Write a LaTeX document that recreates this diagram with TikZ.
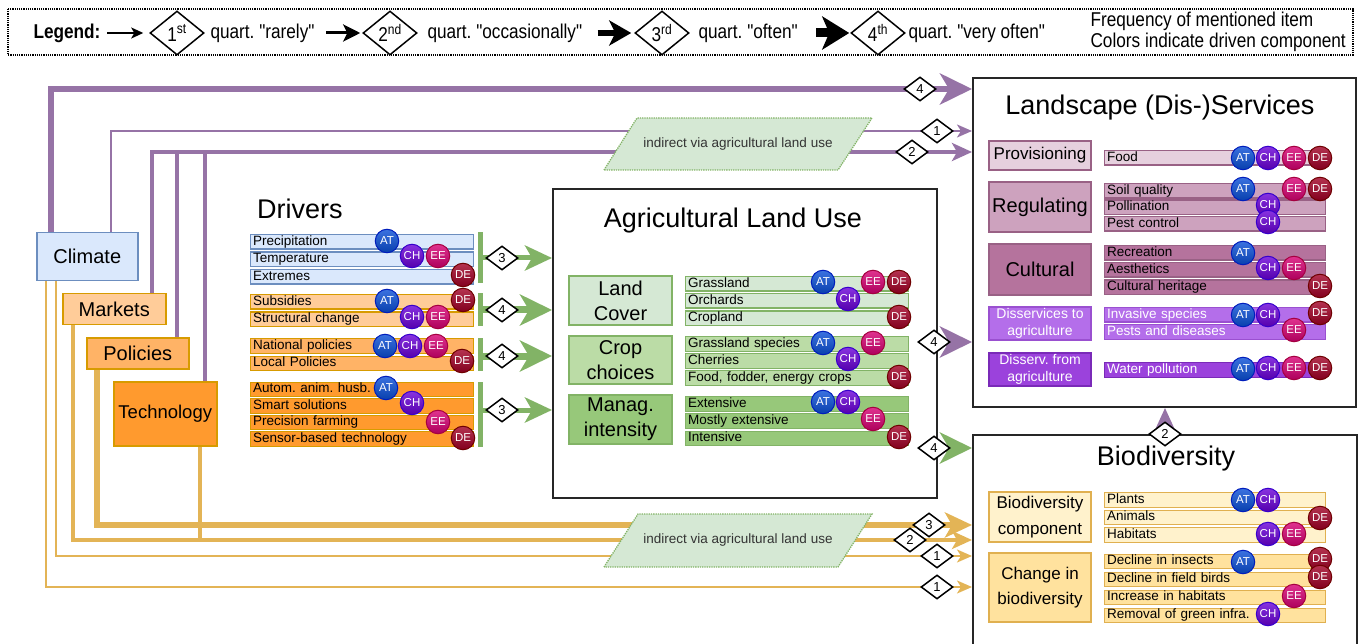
\documentclass[tikz,border=0pt]{standalone}
\usepackage{fontspec}
\setmainfont{Liberation Sans}
\newfontfamily\narrowf[FakeStretch=0.86]{Liberation Sans}
\usetikzlibrary{arrows.meta,shapes.geometric,backgrounds}
\frenchspacing
\definecolor{cBlue}{HTML}{DAE8FC}
\definecolor{cBlueD}{HTML}{6C8EBF}
\definecolor{cMkt}{HTML}{FFCC99}
\definecolor{cPol}{HTML}{FFB366}
\definecolor{cTec}{HTML}{FF9A2E}
\definecolor{cOrD}{HTML}{D79B00}
\definecolor{cG1}{HTML}{D5E8D4}
\definecolor{cG2}{HTML}{BBDCA6}
\definecolor{cG3}{HTML}{97C87A}
\definecolor{cGD}{HTML}{82B366}
\definecolor{cP1}{HTML}{E6D0DE}
\definecolor{cP2}{HTML}{CDA2BE}
\definecolor{cP3}{HTML}{B5739D}
\definecolor{cP4}{HTML}{B46EEA}
\definecolor{cP4D}{HTML}{9A50D0}
\definecolor{cP5}{HTML}{9B42DC}
\definecolor{cP5D}{HTML}{7A2AB8}
\definecolor{cPD}{HTML}{996185}
\definecolor{cY1}{HTML}{FFF2CC}
\definecolor{cY2}{HTML}{FFE29E}
\definecolor{cYD}{HTML}{E0B050}
\definecolor{cPur}{HTML}{9673A6}
\definecolor{cGold}{HTML}{E3B456}
\definecolor{cAT}{HTML}{0A4FD8}
\definecolor{cATd}{HTML}{001DBC}
\definecolor{cCH}{HTML}{6A00D8}
\definecolor{cCHd}{HTML}{3700CC}
\definecolor{cEE}{HTML}{D80073}
\definecolor{cEEd}{HTML}{A50040}
\definecolor{cDE}{HTML}{A20025}
\definecolor{cDEd}{HTML}{6F0000}
\newcommand\fsz[2]{\fontsize{#1}{#2}\selectfont}
\tikzset{
  ibar/.style={rectangle, draw=#1, line width=1.2pt, inner xsep=2.5pt, inner ysep=0pt,
     minimum height=14.5pt, text height=9.8pt, text depth=2.7pt, align=left,
     anchor=north west, font=\fsz{13.5}{14}},
  clbar/.style={ibar=cBlueD, fill=cBlue, text width=218pt},
  mkbar/.style={ibar=cOrD, fill=cMkt, text width=218pt},
  pobar/.style={ibar=cOrD, fill=cPol, text width=218pt},
  tebar/.style={ibar=cOrD, fill=cTec, text width=218pt},
  gabar/.style={ibar=cGD, fill=cG1, text width=218pt},
  gbbar/.style={ibar=cGD, fill=cG2, text width=218pt},
  gcbar/.style={ibar=cGD, fill=cG3, text width=218pt},
  pabar/.style={ibar=cPD, fill=cP1, text width=216pt},
  pbbar/.style={ibar=cPD, fill=cP2, text width=216pt},
  pcbar/.style={ibar=cPD, fill=cP3, text width=216pt},
  pdbar/.style={ibar=cP4D, fill=cP4, text width=216pt, text=white},
  pebar/.style={ibar=cP5D, fill=cP5, text width=216pt, text=white},
  yabar/.style={ibar=cYD, fill=cY1, text width=216pt},
  ybbar/.style={ibar=cYD, fill=cY2, text width=216pt},
  drv/.style={rectangle, line width=1.5pt, inner sep=0pt, anchor=north west, font=\fsz{20}{24}},
  cat/.style={rectangle, line width=1.5pt, inner sep=0pt, align=center, minimum width=102pt},
  bigbox/.style={rectangle, draw=black!85, line width=2pt, fill=white, inner sep=0pt, anchor=north west},
  ttl/.style={font=\fsz{27}{30}, anchor=base, inner sep=0pt},
  badge/.style={circle, minimum size=23.5pt, inner sep=0pt, line width=1pt, text=white, font=\fsz{11.5}{12}},
  bAT/.style={badge, top color=cAT!80!white, bottom color=cAT!80!black, draw=cATd},
  bCH/.style={badge, top color=cCH!80!white, bottom color=cCH!80!black, draw=cCHd},
  bEE/.style={badge, top color=cEE!80!white, bottom color=cEE!80!black, draw=cEEd},
  bDE/.style={badge, top color=cDE!80!white, bottom color=cDE!80!black, draw=cDEd},
  dia/.style={diamond, draw=black, fill=white, line width=1.5pt, inner sep=0pt,
     minimum width=32pt, minimum height=24pt, font=\fsz{13}{13}},
  ldia/.style={diamond, draw=black, fill=white, line width=1.5pt, inner sep=0pt,
     minimum width=54pt, minimum height=44pt, font=\narrowf\fsz{20}{20}},
  ltxt/.style={anchor=west, font=\narrowf\fsz{20}{21}},
  brk/.style={rectangle, fill=cGD, draw=none, minimum width=5pt, inner sep=0pt},
  pur/.style={draw=cPur},
  gold/.style={draw=cGold},
  grn/.style={draw=cGD},
  tipa/.style={-{Stealth[length=15pt,width=13pt,inset=4pt]}},
  tipb/.style={-{Stealth[length=20pt,width=18pt,inset=5pt]}},
  tipc/.style={-{Stealth[length=27pt,width=25pt,inset=7pt]}},
  tipd/.style={-{Stealth[length=32pt,width=31pt,inset=9pt]}},
  indir/.style={fill=cG1, draw=cGD, densely dotted, line width=1.3pt},
}
\begin{document}
\begin{tikzpicture}[x=1pt,y=-1pt]
\useasboundingbox (0,0) rectangle (1360,644);

% ---------- legend ----------
\draw[densely dotted, line width=1.2pt] (8,9) rectangle (1353,55);
\node[ltxt, font=\narrowf\bfseries\fsz{20}{21}] (legT) at (30,33) {Legend:};
\node[ldia] (ld1) at (177,33) {1\textsuperscript{st}};
\node[ltxt] (lq1) at (207,33) {quart. "rarely"};
\node[ldia] (ld2) at (390,33) {2\textsuperscript{nd}};
\node[ltxt] (lq2) at (424,33) {quart. "occasionally"};
\node[ldia] (ld3) at (662,33) {3\textsuperscript{rd}};
\node[ltxt] (lq3) at (695,33) {quart. "often"};
\node[ldia] (ld4) at (878,33) {4\textsuperscript{th}};
\node[ltxt] (lq4) at (905,33) {quart. "very often"};
\node[ltxt, align=left] (lfreq) at (1087,32) {Frequency of mentioned item\\Colors indicate driven component};
\draw[line width=1.5pt, -{Stealth[length=12pt,width=11pt,inset=3pt]}] (107,33) -- ([xshift=-6pt]ld1.west);
\draw[line width=3pt, -{Stealth[length=17pt,width=17pt,inset=4pt]}] ([xshift=8pt]lq1.east) -- ([xshift=-2pt]ld2.west);
\draw[line width=6pt, -{Stealth[length=22pt,width=25pt,inset=6pt]}] ([xshift=12pt]lq2.east) -- ([xshift=-3pt]ld3.west);
\draw[line width=9pt, -{Stealth[length=27pt,width=33pt,inset=7pt]}] ([xshift=15pt]lq3.east) -- ([xshift=-1pt]ld4.west);

% ---------- driver boxes ----------
\node[drv, fill=cBlue, draw=cBlueD, minimum width=101pt, minimum height=48pt] (clim) at (36,232) {Climate};
\node[drv, fill=cMkt, draw=cOrD, minimum width=103pt, minimum height=31pt] (mkt) at (62,293) {Markets};
\node[drv, fill=cPol, draw=cOrD, minimum width=102pt, minimum height=31pt] (pol) at (86,337) {Policies};
\node[drv, fill=cTec, draw=cOrD, minimum width=103pt, minimum height=64pt, font=\fsz{18.5}{22}] (tech) at (113,381) {Technology};

% ---------- big boxes ----------
\node[bigbox, minimum width=384pt, minimum height=309pt] (alu) at (552,188) {};
\node[bigbox, minimum width=383pt, minimum height=329pt] (ls) at (972,77) {};
\node[bigbox, minimum width=384pt, minimum height=240pt] (bd) at (972,434) {};

\coordinate (yA) at (0,89);
\coordinate (yB) at (0,131);
\coordinate (yC) at (0,152);
\coordinate (yD) at (0,525);
\coordinate (yE) at (0,540);
\coordinate (yF) at (0,556);
\coordinate (yG) at (0,587);
\coordinate (yH) at (0,342);
\coordinate (yI) at (0,448);

% ---------- connectors (background) ----------
\begin{pgfonlayer}{background}
\draw[pur, line width=6pt, tipd] ([xshift=15pt]clim.north west) |- (ls.west |- yA);
\draw[pur, line width=2pt, tipa] ([xshift=75pt]clim.north west) |- (ls.west |- yB);
\draw[pur, line width=4pt, tipb] ([xshift=90pt]mkt.north west) |- (ls.west |- yC);
\draw[pur, line width=3.5pt] ([xshift=91pt]pol.north west) -- ([xshift=91pt]pol.north west |- yC);
\draw[pur, line width=3.5pt] ([xshift=92pt]tech.north west) -- ([xshift=92pt]tech.north west |- yC);
\draw[gold, line width=2pt, tipa] ([xshift=10pt]clim.south west) |- (bd.west |- yG);
\draw[gold, line width=2pt, tipa] ([xshift=20pt]clim.south west) |- (bd.west |- yF);
\draw[gold, line width=3.5pt, tipb] ([xshift=11pt]mkt.south west) |- (bd.west |- yE);
\draw[gold, line width=5.5pt, tipc] ([xshift=11pt]pol.south west) |- (bd.west |- yD);
\draw[gold, line width=3.5pt] ([xshift=87pt]tech.south west) -- ([xshift=87pt]tech.south west |- yE);
\draw[pur, line width=7pt, tipd] (alu.east |- yH) -- (ls.west |- yH);
\draw[grn, line width=7pt, tipd] (alu.east |- yI) -- (bd.west |- yI);
\draw[pur, line width=4pt, tipb] (bd.north) -- (bd.north |- ls.south);
\end{pgfonlayer}

% ---------- indirect parallelograms ----------
\draw[indir] (604,170) -- (637,118) -- (872,118) -- (838,170) -- cycle;
\node[font=\fsz{13.5}{14}, text=black!80] (ind1) at (738,144) {indirect via agricultural land use};
\draw[indir] (604,567) -- (638,514) -- (872,514) -- (838,567) -- cycle;
\node[font=\fsz{13.5}{14}, text=black!80] (ind2) at (738,540) {indirect via agricultural land use};

% ---------- titles ----------
\node[ttl, anchor=base west] (drvT) at (257,219) {Drivers};
\node[ttl] (aluT) at (733,228) {Agricultural Land Use};
\node[ttl] (lsT) at (1160,115) {Landscape (Dis-)Services};
\node[ttl] (bdT) at (1166,465) {Biodiversity};

% ---------- driver items ----------
\node[clbar] (i1) at (250,234) {Precipitation};
\node[clbar] (i2) at (250,251.5) {Temperature};
\node[clbar] (i3) at (250,269) {Extremes};
\node[mkbar] (i4) at (250,294) {Subsidies};
\node[mkbar] (i5) at (250,311.5) {Structural change};
\node[pobar] (i6) at (250,338) {National policies};
\node[pobar] (i7) at (250,355.5) {Local Policies};
\node[tebar] (i8) at (250,381.5) {Autom. anim. husb.};
\node[tebar] (i9) at (250,398) {Smart solutions};
\node[tebar] (i10) at (250,414.5) {Precision farming};
\node[tebar] (i11) at (250,431) {Sensor-based technology};

% brackets and arrows to land use
\node[brk, minimum height=51pt] (bkC) at (480,258) {};
\node[brk, minimum height=33pt] (bkM) at (480,310) {};
\node[brk, minimum height=33pt] (bkP) at (480,354) {};
\node[brk, minimum height=65pt] (bkT) at (480,414) {};
\draw[grn, line width=5pt, tipc] (bkC.east) -- (bkC.east -| alu.west);
\draw[grn, line width=7pt, tipd] (bkM.east) -- (bkM.east -| alu.west);
\draw[grn, line width=7pt, tipd] ([yshift=-2pt]bkP.east) -- ([yshift=-2pt]bkP.east -| alu.west);
\draw[grn, line width=5pt, tipc] ([yshift=4pt]bkT.east) -- ([yshift=4pt]bkT.east -| alu.west);

% ---------- land use ----------
\node[cat, fill=cG1, draw=cGD, minimum width=103pt, minimum height=49pt, font=\fsz{20}{25}] (lc) at (620.5,300.5) {Land\\Cover};
\node[cat, fill=cG2, draw=cGD, minimum width=103pt, minimum height=48pt, font=\fsz{20}{25}] (cc) at (620.5,360) {Crop\\choices};
\node[cat, fill=cG3, draw=cGD, minimum width=103pt, minimum height=49pt, font=\fsz{20}{25}] (mi) at (620.5,419.5) {Manag.\\intensity};
\node[gabar] (j1) at (685,276) {Grassland};
\node[gabar] (j2) at (685,293) {Orchards};
\node[gabar] (j3) at (685,310.5) {Cropland};
\node[gbbar] (j4) at (685,336) {Grassland species};
\node[gbbar] (j5) at (685,353) {Cherries};
\node[gbbar] (j6) at (685,370) {Food, fodder, energy crops};
\node[gcbar] (j7) at (685,396) {Extensive};
\node[gcbar] (j8) at (685,413) {Mostly extensive};
\node[gcbar] (j9) at (685,430.5) {Intensive};

% ---------- landscape services ----------
\node[cat, fill=cP1, draw=cPD, minimum height=29pt, font=\fsz{17}{20}] (prov) at (1040,155.5) {Provisioning};
\node[cat, fill=cP2, draw=cPD, minimum height=50pt, font=\fsz{20}{24}] (reg) at (1040,207) {Regulating};
\node[cat, fill=cP3, draw=cPD, minimum height=51pt, font=\fsz{20}{24}] (cult) at (1040,269.5) {Cultural};
\node[cat, fill=cP4, draw=cP4D, minimum height=33pt, text=white, font=\fsz{14}{17}] (dto) at (1040,323.5) {Disservices to\\agriculture};
\node[cat, fill=cP5, draw=cP5D, minimum height=33pt, text=white, font=\fsz{14}{17}] (dfrom) at (1040,369.5) {Disserv. from\\agriculture};
\node[pabar] (k1) at (1104,150) {Food};
\node[pbbar] (k2) at (1104,183) {Soil quality};
\node[pbbar] (k3) at (1104,199.5) {Pollination};
\node[pbbar] (k4) at (1104,216) {Pest control};
\node[pcbar] (k5) at (1104,245) {Recreation};
\node[pcbar] (k6) at (1104,262) {Aesthetics};
\node[pcbar] (k7) at (1104,279.5) {Cultural heritage};
\node[pdbar] (k8) at (1104,307) {Invasive species};
\node[pdbar] (k9) at (1104,324) {Pests and diseases};
\node[pebar] (k10) at (1104,362) {Water pollution};

% ---------- biodiversity ----------
\node[cat, fill=cY1, draw=cYD, minimum height=50pt, font=\fsz{17}{26}] (bdc) at (1040,517) {Biodiversity\\component};
\node[cat, fill=cY2, draw=cYD, minimum height=69pt, font=\fsz{17}{25}] (chb) at (1040,587.5) {Change in\\biodiversity};
\node[yabar] (m1) at (1104,492) {Plants};
\node[yabar] (m2) at (1104,509.5) {Animals};
\node[yabar] (m3) at (1104,527) {Habitats};
\node[ybbar] (m4) at (1104,553.5) {Decline in insects};
\node[ybbar] (m5) at (1104,571.5) {Decline in field birds};
\node[ybbar] (m6) at (1104,589.5) {Increase in habitats};
\node[ybbar] (m7) at (1104,607.5) {Removal of green infra.};

% ---------- badges ----------
\foreach \p [count=\i] in {(387,241),(387,301),(385,346),(386,388),(823,282),(823,343),(823,402),(1243,158),(1243,189),(1243,253),(1243,315),(1243,369),(1243,500),(1243,562)}
  \node[bAT] (AT\i) at \p {AT};
\foreach \p [count=\i] in {(412,256),(412,317),(410,346),(412,403),(848,299),(848,359),(848,402),(1268,158),(1268,205),(1268,222),(1268,268),(1268,315),(1268,368),(1268,500),(1268,534),(1268,614)}
  \node[bCH] (CH\i) at \p {CH};
\foreach \p [count=\i] in {(438,256),(438,317),(436,346),(438,422),(873,282),(873,343),(873,419),(1294,158),(1294,189),(1294,268),(1294,330),(1294,368),(1294,534),(1294,596)}
  \node[bEE] (EE\i) at \p {EE};
\foreach \p [count=\i] in {(463,275),(463,300),(462,361),(463,438),(899,282),(899,317),(899,377),(899,437),(1320,158),(1320,189),(1320,286),(1320,313),(1320,368),(1320,518),(1320,559),(1320,577)}
  \node[bDE] (DE\i) at \p {DE};

% ---------- frequency diamonds ----------
\node[dia] (d1) at (502,258) {3};
\node[dia] (d2) at (502,310) {4};
\node[dia] (d3) at (502,356) {4};
\node[dia] (d4) at (502,410) {3};
\node[dia] (d5) at (920,89) {4};
\node[dia] (d6) at (937,131) {1};
\node[dia] (d7) at (912,152) {2};
\node[dia] (d8) at (934,342) {4};
\node[dia] (d9) at (934,448) {4};
\node[dia] (d10) at (929,525) {3};
\node[dia] (d11) at (910,540) {2};
\node[dia] (d12) at (937,556) {1};
\node[dia] (d13) at (937,587) {1};
\node[dia] (d14) at (bd.north) {2};
\end{tikzpicture}
\end{document}
